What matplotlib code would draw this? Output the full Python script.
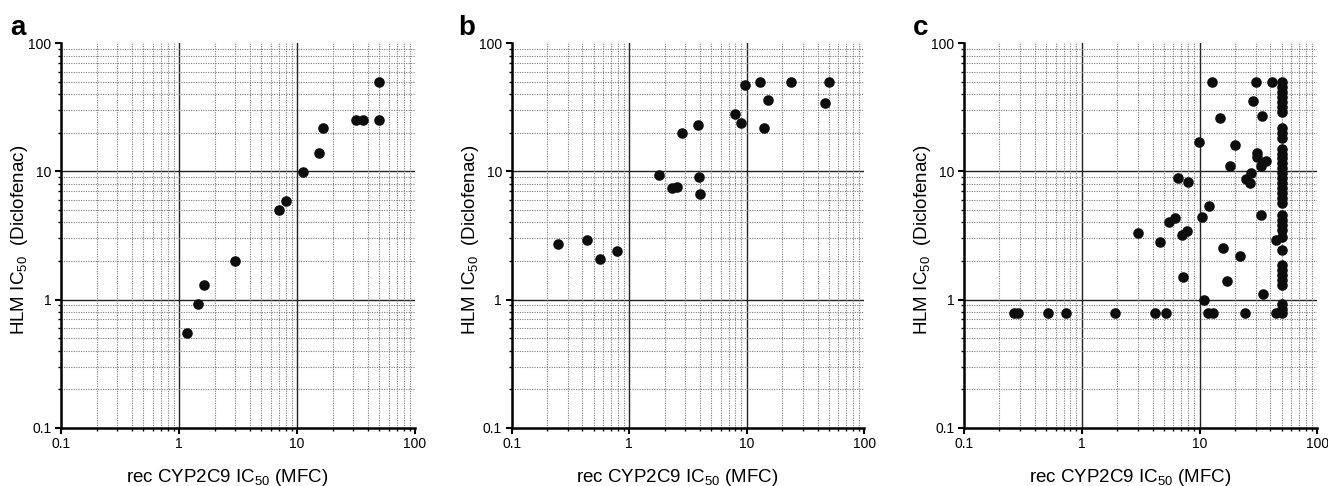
import numpy as np
import matplotlib
matplotlib.use("Agg")
import matplotlib.pyplot as plt
from matplotlib.ticker import FixedLocator, NullFormatter, LogLocator

plt.rcParams['font.family'] = ['Liberation Sans', 'DejaVu Sans']
plt.rcParams['mathtext.default'] = 'regular'

# ---- data ----
a_x = [1.18, 1.46, 1.62, 3.0, 7.0, 8.0, 11.2, 15.3, 16.5, 31.6, 36.5, 50, 50]
a_y = [0.55, 0.92, 1.30, 2.0, 5.0, 5.9, 9.9, 14.0, 22.0, 25.0, 25.0, 25.0, 50.0]

b_x = [0.25, 0.44, 0.56, 0.79, 1.80, 2.33, 2.55, 2.83, 3.82, 3.92, 4.02,
       8.0, 8.98, 9.73, 12.9, 13.9, 15.1, 23.9, 45.9, 50]
b_y = [2.7, 2.92, 2.08, 2.4, 9.4, 7.4, 7.5, 20.0, 23.0, 9.06, 6.7,
       28.3, 24.0, 47.3, 50.0, 22.0, 36.1, 50.0, 34.0, 50.0]

c_x_scatter = [0.267, 0.286, 0.52, 0.73, 1.91, 4.19, 5.19, 11.9, 12.9, 24.3, 44.6,
               12.8, 30.1, 41.2, 28.4, 34.1, 15.0, 9.96, 20.1, 31.0, 31.0, 36.5,
               33.3, 18.0, 27.2, 24.7, 27.0, 6.51, 8.04, 12.0, 10.5, 33.3, 6.2,
               5.55, 7.83, 7.1, 2.98, 4.61, 15.9, 22.2, 7.24, 17.2, 34.4, 11.0, 44.6]
c_y_scatter = [0.78, 0.78, 0.78, 0.78, 0.78, 0.78, 0.78, 0.78, 0.78, 0.78, 0.78,
               50.0, 50.0, 50.0, 35.3, 27.2, 26.1, 17.1, 16.0, 14.0, 13.0, 12.0,
               11.1, 11.0, 9.66, 8.73, 8.17, 8.83, 8.3, 5.41, 4.41, 4.57, 4.3,
               4.0, 3.45, 3.19, 3.3, 2.81, 2.51, 2.2, 1.51, 1.40, 1.10, 0.99, 2.92]
# compounds at the upper limit of the rec CYP2C9 assay (50)
c_col_y = [50.1, 45.8, 41.9, 38.3, 35.0, 32.0, 29.2, 21.7, 19.8, 18.1, 15.1,
           13.8, 12.7, 11.6, 10.6, 9.67, 8.84, 8.08, 7.38, 6.75, 6.17, 5.70,
           4.57, 4.18, 3.82, 3.49, 3.06, 2.44, 1.86, 1.70, 1.55, 1.42, 1.30,
           0.93, 0.85, 0.78]
c_x = c_x_scatter + [50] * len(c_col_y)
c_y = c_y_scatter + c_col_y

panels = [("a", a_x, a_y), ("b", b_x, b_y), ("c", c_x, c_y)]
tick_vals = [0.1, 1, 10, 100]
tick_labels = ["0.1", "1", "10", "100"]

W, H = 1328, 486
fig = plt.figure(figsize=(W / 100, H / 100), dpi=100)

lefts = [61, 511.7, 964]
widths = [354, 352.6, 353.3]
top_px, bot_px = 43.3, 427.7

for (letter, xs, ys), l, w in zip(panels, lefts, widths):
    ax = fig.add_axes([l / W, (H - bot_px) / H, w / W, (bot_px - top_px) / H])
    ax.set_xscale('log')
    ax.set_yscale('log')
    ax.set_xlim(0.1, 100)
    ax.set_ylim(0.1, 100)

    # minor grid (dotted)
    ax.xaxis.set_minor_locator(LogLocator(base=10, subs=np.arange(2, 10)))
    ax.yaxis.set_minor_locator(LogLocator(base=10, subs=np.arange(2, 10)))
    ax.xaxis.set_minor_formatter(NullFormatter())
    ax.yaxis.set_minor_formatter(NullFormatter())
    ax.grid(which='minor', linestyle=(0, (1, 1.2)), color='#7a7a7a', linewidth=0.8)
    ax.grid(which='major', visible=False)
    for v in [1, 10]:
        ax.axvline(v, color='#222222', linewidth=1.0, zorder=1)
        ax.axhline(v, color='#222222', linewidth=1.0, zorder=1)

    ax.scatter(xs, ys, s=58, color='#0d0d0d', zorder=3, linewidths=0)

    ax.xaxis.set_major_locator(FixedLocator(tick_vals))
    ax.yaxis.set_major_locator(FixedLocator(tick_vals))
    ax.set_xticklabels(tick_labels)
    ax.set_yticklabels(tick_labels)

    for s in ['top', 'right']:
        ax.spines[s].set_visible(False)
    for s in ['left', 'bottom']:
        ax.spines[s].set_linewidth(1.8)
        ax.spines[s].set_color('black')
    ax.tick_params(which='major', direction='out', length=4, width=1.5,
                   labelsize=10, pad=3)
    ax.tick_params(which='minor', direction='out', length=2.5, width=1.0)

    ax.text(0.47, -0.141, "rec CYP2C9 IC$_{50}$ (MFC)", transform=ax.transAxes,
            ha='center', va='baseline', fontsize=13.5, clip_on=False)
    ax.text(-0.118, 0.488, "HLM IC$_{50}$  (Diclofenac)", transform=ax.transAxes,
            ha='center', va='center', rotation=90, fontsize=13.5, clip_on=False)
    fig.text((l - 51 + (0 if letter != 'b' else -2)) / W, (H - 35) / H, letter,
             fontsize=20, fontweight='bold', ha='left', va='baseline')

fig.savefig("out.png", dpi=100)
